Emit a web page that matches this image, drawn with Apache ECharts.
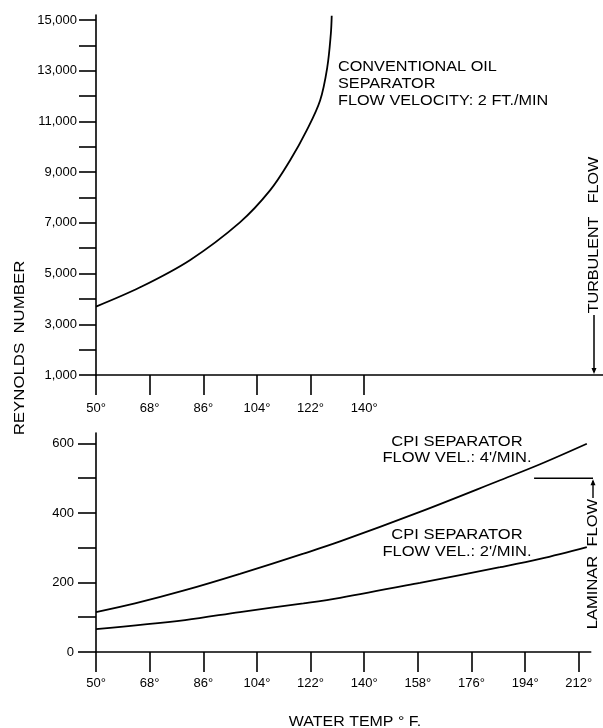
<!DOCTYPE html>
<html>
<head>
<meta charset="utf-8">
<script src="https://cdn.jsdelivr.net/npm/echarts@6/dist/echarts.min.js"></script>
<style>
html,body{margin:0;padding:0;background:#fff;}
#chart{width:603px;height:728px;}
</style>
</head>
<body>
<div id="chart"></div>
<script>
// ---- data ----
const convTemps = [50, 64.8, 81.5, 98.3, 108.4, 115.1, 120.7, 125.2, 127.6, 128.8, 129.1];
const convReynolds = [3700, 4460, 5530, 7020, 8280, 9460, 10650, 11830, 13130, 14450, 15170];

const cpi4Temps = [50, 63.1, 79.9, 98.3, 119.6, 131.9, 158.7, 185.6, 199, 214.7];
const cpi4Reynolds = [115, 140, 178, 225, 283, 318, 403, 494, 540, 599];

const cpi2Temps = [50, 79.9, 98.3, 119.6, 131.9, 158.7, 185.6, 199, 214.7];
const cpi2Reynolds = [66, 92, 115, 140, 156, 199, 244, 268, 302];

const topXTicks = [50, 68, 86, 104, 122, 140];
const bottomXTicks = [50, 68, 86, 104, 122, 140, 158, 176, 194, 212];
const topYTicks = [1000, 2000, 3000, 4000, 5000, 6000, 7000, 8000, 9000, 10000, 11000, 12000, 13000, 14000, 15000];
const topYLabels = [1000, 3000, 5000, 7000, 9000, 11000, 13000, 15000];
const bottomYTicks = [0, 100, 200, 300, 400, 500, 600];
const bottomYLabels = [0, 200, 400, 600];

const laminarLimit = 500;
const laminarLineStartTemp = 197;

// ---- chart ----
const FONT = "'Liberation Sans', Arial, Helvetica, sans-serif";
const axisLine = { show: true, lineStyle: { color: '#000', width: 1.6 } };
const pairs = (xs, ys) => xs.map((x, i) => [x, ys[i]]);
const deg = v => v + '\u00b0';

const chart = echarts.init(document.getElementById('chart'), null, { renderer: 'canvas' });

const option = {
  backgroundColor: '#fff',
  animation: false,
  grid: [
    { left: 96, top: 15, width: 506.6, height: 360 },
    { left: 96, top: 433, width: 494.7, height: 219 }
  ],
  xAxis: [
    {
      gridIndex: 0, type: 'value', min: 50, max: 220,
      axisLine: axisLine, splitLine: { show: false },
      axisTick: { show: true, length: 20, lineStyle: { color: '#000', width: 1.6 }, customValues: topXTicks },
      axisLabel: { customValues: topXTicks, formatter: deg, color: '#000', fontSize: 13, fontFamily: FONT, margin: 27 }
    },
    {
      gridIndex: 1, type: 'value', min: 50, max: 216,
      axisLine: axisLine, splitLine: { show: false },
      axisTick: { show: true, length: 20, lineStyle: { color: '#000', width: 1.6 }, customValues: bottomXTicks },
      axisLabel: { customValues: bottomXTicks, formatter: deg, color: '#000', fontSize: 13, fontFamily: FONT, margin: 25 }
    }
  ],
  yAxis: [
    {
      gridIndex: 0, type: 'value', min: 1000, max: 15200,
      axisLine: axisLine, splitLine: { show: false },
      axisTick: { show: true, length: 17, lineStyle: { color: '#000', width: 1.6 }, customValues: topYTicks },
      axisLabel: { customValues: topYLabels, formatter: v => v.toLocaleString('en-US'), color: '#000', fontSize: 13, fontFamily: FONT, margin: 19 }
    },
    {
      gridIndex: 1, type: 'value', min: 0, max: 630,
      axisLine: axisLine, splitLine: { show: false },
      axisTick: { show: true, length: 18, lineStyle: { color: '#000', width: 1.6 }, customValues: bottomYTicks },
      axisLabel: { customValues: bottomYLabels, color: '#000', fontSize: 13, fontFamily: FONT, margin: 22 }
    }
  ],
  series: [
    {
      name: 'Conventional oil separator', type: 'line', xAxisIndex: 0, yAxisIndex: 0,
      data: pairs(convTemps, convReynolds), smooth: 0.35,
      showSymbol: false, lineStyle: { color: '#000', width: 1.8 }, clip: true
    },
    {
      name: 'CPI 4 ft/min', type: 'line', xAxisIndex: 1, yAxisIndex: 1,
      data: pairs(cpi4Temps, cpi4Reynolds), smooth: 0.35,
      showSymbol: false, lineStyle: { color: '#000', width: 1.8 }
    },
    {
      name: 'CPI 2 ft/min', type: 'line', xAxisIndex: 1, yAxisIndex: 1,
      data: pairs(cpi2Temps, cpi2Reynolds), smooth: 0.35,
      showSymbol: false, lineStyle: { color: '#000', width: 1.8 }
    }
  ]
};
chart.setOption(option);

// ---- annotations ----
const txt = (text, x, y, opts) => Object.assign({
  type: 'text', x: x, y: y, scaleX: 1.16, silent: true,
  style: { text: text, fill: '#000', fontSize: 14, fontFamily: FONT, align: 'left', verticalAlign: 'middle' }
}, opts || {});

const lamY = chart.convertToPixel({ gridIndex: 1 }, [laminarLineStartTemp, laminarLimit]);
const baseTop = chart.convertToPixel({ gridIndex: 0 }, [50, 1000]);
const lamX0 = lamY[0], lamYpx = lamY[1];
const arrowX = 594;
const baseY = baseTop[1];

const g = [];
// conventional label
g.push(txt('CONVENTIONAL OIL', 338, 67));
g.push(txt('SEPARATOR', 338, 84));
g.push(txt('FLOW VELOCITY: 2 FT./MIN', 338, 101));
// CPI labels
const cTxt = (t, x, y) => { const e = txt(t, x, y, { scaleX: 1.18 }); e.style.align = 'center'; return e; };
g.push(cTxt('CPI SEPARATOR', 457, 442));
g.push(cTxt("FLOW VEL.: 4'/MIN.", 457, 458));
g.push(cTxt('CPI SEPARATOR', 457, 535));
g.push(cTxt("FLOW VEL.: 2'/MIN.", 457, 552));
// axis titles
const rTxt = (t, x, y, s) => { const e = txt(t, x, y, { rotation: Math.PI / 2, scaleX: s }); e.style.align = 'center'; return e; };
g.push(rTxt('REYNOLDS  NUMBER', 20, 348, 1.2));
const wt = txt('WATER TEMP \u00b0 F.', 355, 722, { scaleX: 1.14 }); wt.style.align = 'center'; g.push(wt);
// turbulent flow
g.push(rTxt('TURBULENT   FLOW', arrowX, 235, 1.15));
g.push({ type: 'line', silent: true, shape: { x1: arrowX, y1: 315, x2: arrowX, y2: baseY - 3 }, style: { stroke: '#000', lineWidth: 1.5 } });
g.push({ type: 'polygon', silent: true, shape: { points: [[arrowX - 2.5, baseY - 7], [arrowX + 2.5, baseY - 7], [arrowX, baseY - 1]] }, style: { fill: '#000' } });
// laminar flow
g.push(rTxt('LAMINAR  FLOW', 593, 564, 1.18));
g.push({ type: 'line', silent: true, shape: { x1: lamX0, y1: lamYpx, x2: 593, y2: lamYpx }, style: { stroke: '#000', lineWidth: 1.6 } });
g.push({ type: 'line', silent: true, shape: { x1: 593, y1: 498, x2: 593, y2: lamYpx + 3 }, style: { stroke: '#000', lineWidth: 1.4 } });
g.push({ type: 'polygon', silent: true, shape: { points: [[590.5, lamYpx + 7], [595.5, lamYpx + 7], [593, lamYpx + 1]] }, style: { fill: '#000' } });

chart.setOption({ graphic: g });
</script>
</body>
</html>
